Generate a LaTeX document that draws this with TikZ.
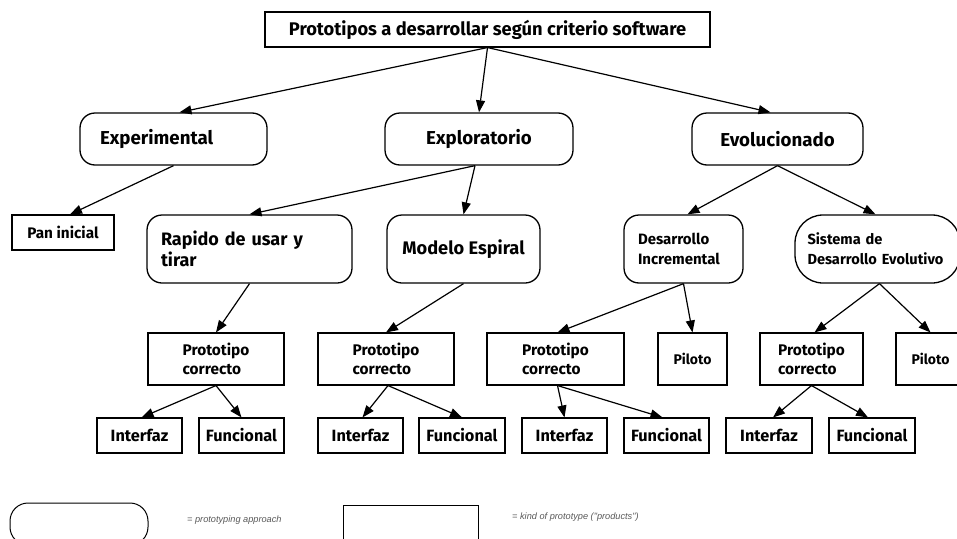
\documentclass[tikz,border=0pt]{standalone}
\usepackage{fontspec}
\setmainfont{Fira Sans}
\newfontfamily\legendfont{Liberation Sans}
\usetikzlibrary{arrows.meta,calc}
\begin{document}
\begin{tikzpicture}[x=1pt,y=-1pt,
  approach/.style={draw, line width=1.3pt, rounded corners=15pt, inner sep=0pt, font=\bfseries},
  kind/.style={draw, line width=1.1pt, inner sep=0pt, font=\bfseries, align=left},
  arr/.style={-{Triangle[length=12pt,width=9pt]}, line width=1.2pt},
  legtext/.style={font=\legendfont\itshape\fontsize{9.2}{10}\selectfont, text=black!65, anchor=west, inner sep=0pt}]
\useasboundingbox (0,0) rectangle (957,538);

% root
\node[kind, minimum width=445pt, minimum height=35pt, font=\bfseries\fontsize{18.3}{20}\selectfont] (root) at (487.5,29.5) {Prototipos a desarrollar según criterio software};

% prototyping approaches
\node[approach, minimum width=187pt, minimum height=52pt, text width=147pt, align=left, font=\bfseries\fontsize{18.7}{20}\selectfont] (exp) at (173.5,139) {Experimental};
\node[approach, minimum width=188pt, minimum height=52pt, font=\bfseries\fontsize{18.7}{20}\selectfont] (expl) at (479,139) {Exploratorio};
\node[approach, minimum width=171pt, minimum height=52pt, font=\bfseries\fontsize{18.7}{20}\selectfont] (evo) at (777.5,139) {Evolucionado};

\node[kind, minimum width=102pt, minimum height=35pt, font=\bfseries\fontsize{15.3}{17}\selectfont] (pan) at (63,232.5) {Pan inicial};
\node[approach, minimum width=205pt, minimum height=68pt, text width=177pt, align=left, font=\bfseries\fontsize{18}{21}\selectfont] (rap) at (249.5,249) {Rapido de usar y\\tirar};
\node[approach, minimum width=153pt, minimum height=68pt, font=\bfseries\fontsize{18.2}{20}\selectfont] (mod) at (463.5,249) {Modelo Espiral};
\node[approach, minimum width=119pt, minimum height=68pt, text width=91pt, align=left, font=\bfseries\fontsize{15}{20}\selectfont] (des) at (683.5,249) {Desarrollo\\Incremental};
\node[approach, rounded corners=28pt, minimum width=165pt, minimum height=68pt, text width=140pt, align=left, font=\bfseries\fontsize{14.6}{20}\selectfont] (sis) at (877.5,249) {Sistema de\\Desarrollo Evolutivo};

% kinds of prototype
\tikzset{proto/.style={kind, minimum height=52pt, font=\bfseries\fontsize{15.4}{19}\selectfont}}
\node[proto, minimum width=136pt] (p1) at (216,359) {Prototipo\\correcto};
\node[proto, minimum width=136pt] (p2) at (386,359) {Prototipo\\correcto};
\node[proto, minimum width=137pt] (p3) at (555.5,359) {Prototipo\\correcto};
\node[proto, minimum width=69pt, font=\bfseries\fontsize{14}{16}\selectfont] (pil1) at (692.5,359) {Piloto};
\node[proto, minimum width=103pt] (p4) at (811.5,359) {Prototipo\\correcto};
\node[proto, minimum width=69pt, font=\bfseries\fontsize{14}{16}\selectfont] (pil2) at (930.5,359) {Piloto};

\tikzset{leaf/.style={kind, minimum width=85pt, minimum height=35pt, font=\bfseries\fontsize{16.3}{18}\selectfont}}
\node[leaf] (i1) at (139.5,435.5) {Interfaz};
\node[leaf] (f1) at (241.5,435.5) {Funcional};
\node[leaf] (i2) at (360.5,435.5) {Interfaz};
\node[leaf, minimum width=86pt] (f2) at (462,435.5) {Funcional};
\node[leaf] (i3) at (564.5,435.5) {Interfaz};
\node[leaf] (f3) at (666.5,435.5) {Funcional};
\node[leaf, minimum width=86pt] (i4) at (769,435.5) {Interfaz};
\node[leaf, minimum width=86pt] (f4) at (872,435.5) {Funcional};

% connectors
\draw[arr] (root.south) -- ($(exp.north)+(6,0)$);
\draw[arr] (root.south) -- (expl.north);
\draw[arr] (root.south) -- ($(evo.north)+(-7,0)$);
\draw[arr] (exp.south) -- ($(pan.north)+(7,0)$);
\draw[arr] ($(expl.south)+(-4,0)$) -- (rap.north);
\draw[arr] ($(expl.south)+(-4,0)$) -- (mod.north);
\draw[arr] (evo.south) -- ($(des.north)+(4,0)$);
\draw[arr] (evo.south) -- ($(sis.north)+(-2,0)$);
\draw[arr] (rap.south) -- (p1.north);
\draw[arr] (mod.south) -- (p2.north);
\draw[arr] (des.south) -- ($(p3.north)+(2,0)$);
\draw[arr] (des.south) -- (pil1.north);
\draw[arr] ($(sis.south)+(2,0)$) -- ($(p4.north)+(3,0)$);
\draw[arr] ($(sis.south)+(2,0)$) -- (pil2.north);
\draw[arr] (p1.south) -- ($(i1.north)+(2,0)$);
\draw[arr] (p1.south) -- (f1.north);
\draw[arr] ($(p2.south)+(2,0)$) -- ($(i2.north)+(2,0)$);
\draw[arr] ($(p2.south)+(2,0)$) -- (f2.north);
\draw[arr] ($(p3.south)+(2,0)$) -- (i3.north);
\draw[arr] ($(p3.south)+(2,0)$) -- ($(f3.north)+(-4,0)$);
\draw[arr] (p4.south) -- ($(i4.north)+(4,0)$);
\draw[arr] (p4.south) -- ($(f4.north)+(-4,0)$);

% legend
\node[draw, line width=1pt, rounded corners=18pt, minimum width=138pt, minimum height=42pt] (lgA) at (79,524) {};
\node[legtext] (lgAt) at (187,520) {= prototyping approach};
\node[draw, line width=1pt, minimum width=135pt, minimum height=43pt] (lgB) at (410.5,526.5) {};
\node[legtext] (lgBt) at (512,517) {= kind of prototype ("products")};
\end{tikzpicture}
\end{document}
